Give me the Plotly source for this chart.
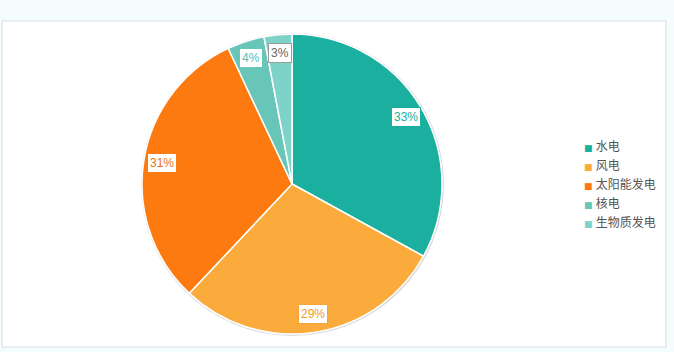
import math
import plotly.graph_objects as go

labels = ["水电", "风电", "太阳能发电", "核电", "生物质发电"]
values = [33, 29, 31, 4, 3]
colors = ["#1aaf9e", "#fbab3b", "#fd7a10", "#68c6b9", "#7ed3c8"]
label_colors = ["#1aaf9e", "#f09a2a", "#f07010", "#5cbcaf", "#666666"]
border_colors = ["#1aaf9e", "#f5a33a", "#f57a18", "#68c6b9", "#9a9a9a"]

W, H = 674, 352
CX, CY, R = 292, 184, 150
dom_x = [(CX - R) / W, (CX + R) / W]
dom_y = [1 - (CY + R) / H, 1 - (CY - R) / H]
FONT = "Liberation Sans, Noto Sans CJK SC, sans-serif"

fig = go.Figure()
fig.add_trace(go.Pie(
    labels=labels, values=values, sort=False, direction="clockwise", rotation=0,
    marker=dict(colors=colors, line=dict(color="white", width=1.5)),
    textinfo="none", hoverinfo="label+percent", showlegend=False,
    domain=dict(x=dom_x, y=dom_y),
))

# legend via invisible scatter traces
for lab, col in zip(labels, colors):
    fig.add_trace(go.Scatter(
        x=[None], y=[None], mode="markers",
        marker=dict(opacity=0, size=0, color="rgba(0,0,0,0)",
                    line=dict(width=0, color="rgba(0,0,0,0)")),
        name=f'<span style="color:{col};font-size:9px;font-family:DejaVu Sans">■</span> {lab}',
        showlegend=True, hoverinfo="skip",
    ))

# percentage labels with boxes
total = sum(values)
cum = 0
anns = []
for v, c, bc in zip(values, label_colors, border_colors):
    mid = (cum + v / 2) / total * 2 * math.pi
    cum += v
    rr = R * 0.88
    anns.append(dict(
        x=(dom_x[0] + dom_x[1]) / 2, y=(dom_y[0] + dom_y[1]) / 2,
        xref="paper", yref="paper", showarrow=False,
        xshift=rr * math.sin(mid), yshift=rr * math.cos(mid),
        text=f"{round(v / total * 100)}%",
        font=dict(family=FONT, size=12, color=c),
        bgcolor="white", bordercolor=bc, borderwidth=1, borderpad=2,
    ))

shapes = [
    # white panel
    dict(type="rect", xref="paper", yref="paper", x0=2 / W, x1=666 / W,
         y0=1 - 347 / H, y1=1 - 21 / H, fillcolor="white",
         line=dict(color="#d6dde0", width=1), layer="below"),
    # faint pie shadow
    dict(type="circle", xref="paper", yref="paper", xsizemode="pixel", ysizemode="pixel",
         xanchor=CX / W, yanchor=1 - CY / H, x0=-R - 1, x1=R + 2, y0=-R - 2, y1=R + 1,
         fillcolor="#dcdcdc", line=dict(width=0), layer="below"),
]

fig.update_layout(
    width=W, height=H, margin=dict(l=0, r=0, t=0, b=0),
    paper_bgcolor="#f4fcfd", plot_bgcolor="rgba(0,0,0,0)",
    xaxis=dict(visible=False), yaxis=dict(visible=False),
    legend=dict(x=0.807, y=1 - 184 / H, xanchor="left", yanchor="middle",
                font=dict(family=FONT, size=12, color="#555555"),
                bgcolor="rgba(0,0,0,0)", itemclick=False, itemdoubleclick=False),
    annotations=anns, shapes=shapes,
    font=dict(family=FONT),
)

fig.write_html("out.html")
